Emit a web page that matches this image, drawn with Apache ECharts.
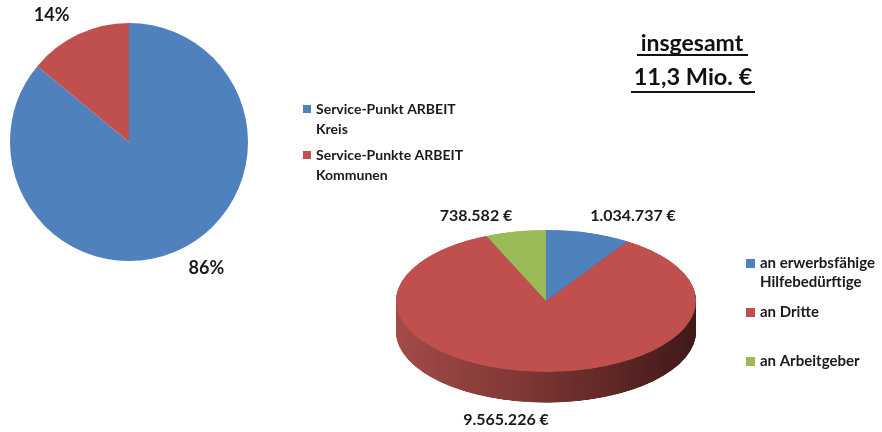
<!DOCTYPE html>
<html>
<head>
<meta charset="utf-8">
<script src="https://cdn.jsdelivr.net/npm/echarts@6/dist/echarts.min.js"></script>
<style>
  html, body { margin: 0; padding: 0; background: #fff; }
  #wrap { position: relative; width: 882px; height: 432px; overflow: hidden; }
  #main { position: absolute; left: 0; top: 0; width: 882px; height: 432px; z-index: 2; }
  /* 3D-Torte: normaler Kreis, senkrecht gestaucht */
  #pie3d { position: absolute; left: 386px; top: 229px; width: 320px; height: 372px;
           transform: scaleY(0.473); transform-origin: 0 0; z-index: 1; }
</style>
</head>
<body>
<div id="wrap">
  <div id="pie3d"></div>
  <div id="main"></div>
</div>
<script>
// Daten
const standortNamen = ['Service-Punkt ARBEIT Kreis', 'Service-Punkte ARBEIT Kommunen']
const standortAnteile = [86, 14]
const leistungNamen = ['an erwerbsfähige Hilfebedürftige', 'an Dritte', 'an Arbeitgeber']
const leistungWerte = [1034737, 9565226, 738582]
const gesamtZeilen = ['insgesamt', '11,3 Mio. €']

const blau = '#4f81bd', rot = '#c0504d', gruen = '#9bbb59'
const farben3 = [blau, rot, gruen]
const schrift = 'Lato'

function euro(v) {
  return String(v).replace(/\B(?=(\d{3})+(?!\d))/g, '.') + ' €'
}

// ---------- 3D Torte (gestauchter Container) ----------
const pieChart = echarts.init(document.getElementById('pie3d'))
const cx = 160, cy = 152, R = 150, tiefe = 65
const seiten = []
for (let k = tiefe; k >= 1; k--) {
  seiten.push({
    type: 'pie',
    silent: true,
    animation: false,
    z: 1,
    center: [cx, cy + k],
    radius: R,
    startAngle: 90,
    label: { show: false },
    labelLine: { show: false },
    data: leistungWerte.map((v, i) => ({
      value: v,
      itemStyle: {
        color: i === 1
          ? new echarts.graphic.LinearGradient(0, 0, 1, 0, [
              { offset: 0, color: '#a34b49' },
              { offset: 0.45, color: '#7c3634' },
              { offset: 1, color: '#401919' }
            ])
          : '#555'
      }
    }))
  })
}
pieChart.setOption({
  series: seiten.concat([{
    type: 'pie',
    silent: true,
    animation: false,
    z: 5,
    center: [cx, cy],
    radius: R,
    startAngle: 90,
    label: { show: false },
    labelLine: { show: false },
    data: leistungWerte.map((v, i) => ({ name: leistungNamen[i], value: v, itemStyle: { color: farben3[i] } }))
  }])
})

// ---------- Hauptdiagramm ----------
const chart = echarts.init(document.getElementById('main'))

const legendeText = (size, lh, w) => ({
  fontFamily: schrift, fontWeight: 'bold', fontSize: size, color: '#1a1a1a',
  lineHeight: lh, width: w, overflow: 'break'
})
// leere erste Zeile, damit das Symbol neben der ersten Textzeile steht
const zweizeilig = name => '\n' + name

chart.setOption({
  animation: false,
  legend: [
    { data: [standortNamen[0]], formatter: zweizeilig,
      left: 303, top: 79, padding: 0, icon: 'rect', itemWidth: 8, itemHeight: 8, itemGap: 5,
      selectedMode: false, textStyle: legendeText(14, 20, 160) },
    { data: [standortNamen[1]], formatter: zweizeilig,
      left: 303, top: 125, padding: 0, icon: 'rect', itemWidth: 8, itemHeight: 8, itemGap: 5,
      selectedMode: false, textStyle: legendeText(14, 20, 160) },
    { data: [leistungNamen[0]], formatter: zweizeilig,
      left: 746, top: 235, padding: 0, icon: 'rect', itemWidth: 9, itemHeight: 9, itemGap: 5,
      selectedMode: false, textStyle: legendeText(15, 19, 130) },
    { data: [leistungNamen[1]],
      left: 746, top: 303, padding: 0, icon: 'rect', itemWidth: 9, itemHeight: 9, itemGap: 5,
      selectedMode: false, textStyle: legendeText(15, 19, 130) },
    { data: [leistungNamen[2]],
      left: 746, top: 352, padding: 0, icon: 'rect', itemWidth: 9, itemHeight: 9, itemGap: 5,
      selectedMode: false, textStyle: legendeText(15, 19, 130) }
  ],
  series: [
    {
      type: 'pie',
      silent: true,
      center: [129, 142],
      radius: 119,
      startAngle: 90,
      avoidLabelOverlap: false,
      label: {
        position: 'outside',
        distanceToLabelLine: 0,
        formatter: p => p.value + '%',
        fontFamily: schrift, fontWeight: 'bold', fontSize: 18, color: '#1a1a1a'
      },
      labelLine: { show: false, length: 21, length2: 0 },
      data: standortAnteile.map((v, i) => ({ name: standortNamen[i], value: v, itemStyle: { color: [blau, rot][i] } }))
    },
    {
      // nur für die Legende der 3D-Torte
      type: 'pie',
      silent: true,
      center: [546, 300],
      radius: 0,
      label: { show: false },
      labelLine: { show: false },
      data: leistungWerte.map((v, i) => ({ name: leistungNamen[i], value: v, itemStyle: { color: farben3[i] } }))
    }
  ],
  graphic: [
    { type: 'text', x: 692, y: 44, style: { text: gesamtZeilen[0], align: 'center', verticalAlign: 'middle',
      fontFamily: schrift, fontWeight: 'bold', fontSize: 23, fill: '#111' } },
    { type: 'text', x: 693, y: 77, style: { text: gesamtZeilen[1], align: 'center', verticalAlign: 'middle',
      fontFamily: schrift, fontWeight: 'bold', fontSize: 23.5, fill: '#111' } },
    { type: 'line', shape: { x1: 637, y1: 55, x2: 748, y2: 55 }, style: { stroke: '#111', lineWidth: 2 } },
    { type: 'line', shape: { x1: 631, y1: 92, x2: 755, y2: 92 }, style: { stroke: '#111', lineWidth: 2 } },
    { type: 'text', x: 633, y: 216, style: { text: euro(leistungWerte[0]), align: 'center', verticalAlign: 'middle',
      fontFamily: schrift, fontWeight: 'bold', fontSize: 16, fill: '#1a1a1a' } },
    { type: 'text', x: 506, y: 420, style: { text: euro(leistungWerte[1]), align: 'center', verticalAlign: 'middle',
      fontFamily: schrift, fontWeight: 'bold', fontSize: 16, fill: '#1a1a1a' } },
    { type: 'text', x: 476, y: 216, style: { text: euro(leistungWerte[2]), align: 'center', verticalAlign: 'middle',
      fontFamily: schrift, fontWeight: 'bold', fontSize: 16, fill: '#1a1a1a' } }
  ]
})
</script>
</body>
</html>
